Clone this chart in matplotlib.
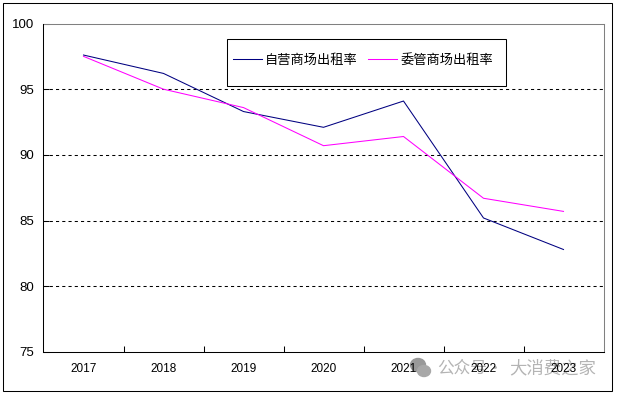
import matplotlib
matplotlib.use('Agg')
import matplotlib.pyplot as plt
from matplotlib.patches import Rectangle, Ellipse

plt.rcParams['font.family'] = ['Noto Sans CJK SC', 'DejaVu Sans']

years = ['2017', '2018', '2019', '2020', '2021', '2022', '2023']
self_run = [97.6, 96.2, 93.3, 92.1, 94.1, 85.2, 82.8]
entrusted = [97.5, 95.0, 93.6, 90.7, 91.4, 86.7, 85.7]
y_ticks = [75, 80, 85, 90, 95, 100]
grid_levels = [80, 85, 90, 95]

W, H = 617, 393
fig = plt.figure(figsize=(W / 100, H / 100), dpi=100, facecolor='white')
ax = fig.add_axes([43.5 / W, 1 - 352 / H, 560 / W, 328.5 / H])

# outer border round the whole chart
fig.add_artist(Rectangle((2.5 / W, 1 - 391 / H), 609.5 / W, 388.5 / H, transform=fig.transFigure,
                         fill=False, edgecolor='black', linewidth=0.75))

x = list(range(len(years)))
for level in grid_levels:
    ax.axhline(level, color='black', linewidth=0.75, linestyle=(0, (3, 3)), zorder=1)
ax.plot(x, self_run, color='#000080', linewidth=0.75, label='自营商场出租率', zorder=3)
ax.plot(x, entrusted, color='#ff00ff', linewidth=0.75, label='委管商场出租率', zorder=3)

ax.set_xlim(-0.5, 6.5)
ax.set_ylim(75, 100)
ax.set_xticks(x)
ax.set_xticklabels(years, fontsize=8.5, family='Liberation Sans')
ax.tick_params(axis='x', which='major', length=0, pad=8)
ax.set_xticks([i + 0.5 for i in x[:-1]], minor=True)
ax.tick_params(axis='x', which='minor', direction='in', length=4, width=0.75)
ax.set_yticks(y_ticks)
ax.set_yticklabels([str(v) for v in y_ticks], fontsize=9.5, family='Liberation Sans')
ax.tick_params(axis='y', direction='in', length=4, width=0.75, pad=7)

ax.spines['top'].set_color('#808080')
ax.spines['right'].set_color('#808080')
for s in ax.spines.values():
    s.set_linewidth(0.75)

# legend frame is drawn apart so the entries can sit at their own spacing
ax.add_patch(Rectangle(((226.5 - 43.5) / 560, (352 - 85.5) / 328.5), 279 / 560, 47 / 328.5,
                       transform=ax.transAxes, facecolor='white', edgecolor='black',
                       linewidth=0.75, zorder=4))
leg = ax.legend(loc='center left', bbox_to_anchor=((233 - 43.5) / 560, (352 - 60.5) / 328.5),
                ncols=2, fontsize=9.5, frameon=False, handlelength=2.2,
                handletextpad=0.23, columnspacing=0.8, borderpad=0, borderaxespad=0)
leg.set_zorder(5)

# watermark sits under the year labels, below the axes in draw order
wm = '#b4b4b4'
fig.text(437 / W, 1 - 368 / H, '公众号·', fontsize=12, color=wm, va='center', ha='left', zorder=-1)
fig.text(509 / W, 1 - 368 / H, '大消费之家', fontsize=12.5, color=wm, va='center', ha='left', zorder=-1)
fig.add_artist(Ellipse((418 / W, 1 - 365 / H), 15 / W, 13 / H, color='#999999', transform=fig.transFigure, zorder=-1))
fig.add_artist(Ellipse((424 / W, 1 - 371 / H), 13 / W, 11 / H, color='#a8a8a8', transform=fig.transFigure, zorder=-1))

fig.savefig('out.png', dpi=100)
